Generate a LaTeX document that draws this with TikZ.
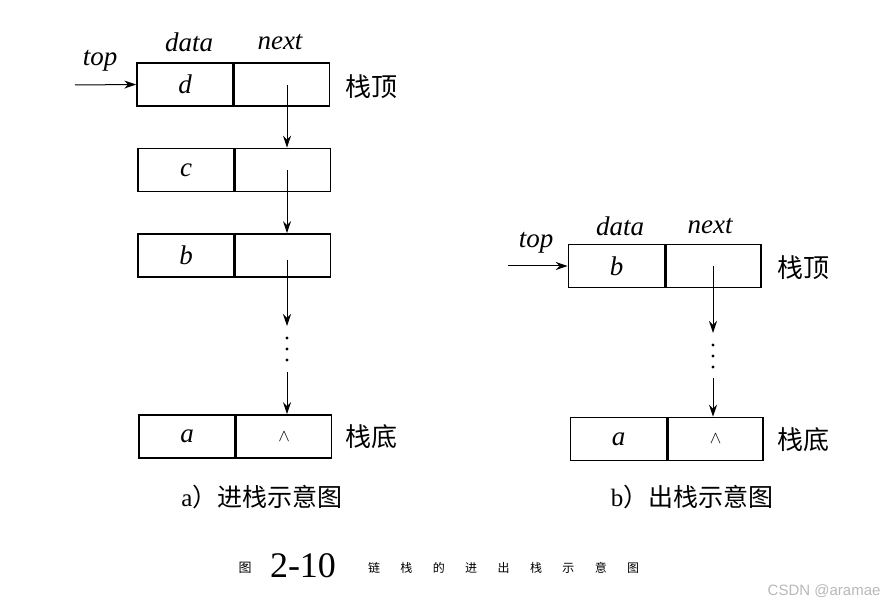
\documentclass[tikz,border=0pt]{standalone}
\usepackage{fontspec}
\setmainfont{Liberation Serif}
\setsansfont{Liberation Sans}
\newfontfamily\cjk{Noto Sans CJK SC}
\usetikzlibrary{arrows.meta}
\begin{document}
\begin{tikzpicture}[x=1pt,y=-1pt,
  cell/.style={draw,line width=1.6pt,minimum height=43pt,inner sep=0pt,font=\fontsize{27}{29}\selectfont\itshape},
  dcell/.style={cell,minimum width=96pt},
  ncell/.style={cell,minimum width=95pt},
  lbl/.style={font=\fontsize{27}{29}\selectfont\itshape,inner sep=0pt},
  cn/.style={font=\fontsize{26}{28}\selectfont\cjk,inner sep=0pt},
  sub/.style={font=\fontsize{25}{27}\selectfont,inner sep=0pt},
  ptr/.style={line width=1pt,-{Stealth[length=12pt,width=8pt]}},
  dot/.style={circle,fill,inner sep=0pt,minimum size=3.2pt},
  wedgecell/.style={font=\upshape\fontsize{16}{16}\selectfont}
]
\useasboundingbox (0,0) rectangle (893,609);
% ---------- left: push ----------
\node[dcell] (Ld) at (185,84.5) {d};
\node[ncell,anchor=west] (Ldn) at (Ld.east) {};
\node[dcell] (Lc) at (186,170) {c};
\node[ncell,anchor=west] (Lcn) at (Lc.east) {};
\node[dcell] (Lb) at (186,255.5) {b};
\node[ncell,anchor=west] (Lbn) at (Lb.east) {};
\node[dcell] (La) at (187,436.5) {a};
\node[ncell,wedgecell,anchor=west] (Lan) at (La.east) {$\wedge$};
\node[lbl] (Ldata) at (189,42) {data};
\node[lbl] (Lnext) at (280,42) {next};
\node[lbl] (Ltop) at (100,61) {top};
\coordinate (Lstart) at (75,85);
\draw[ptr] (Lstart) -- (Ld.west);
\node[cn,anchor=west] (Ltt) at (345,87) {栈顶};
\node[cn,anchor=west] (Lbt) at (345,437) {栈底};
\coordinate (Lp1) at (287,85);
\coordinate (Lp2) at (287,170);
\coordinate (Lp3) at (287,260);
\coordinate (Le3) at (287,326);
\coordinate (Ls4) at (287,372);
\draw[ptr] (Lp1) -- (Lp1 |- Lc.north);
\draw[ptr] (Lp2) -- (Lp2 |- Lb.north);
\draw[ptr] (Lp3) -- (Le3);
\node[dot] (Ldot1) at (287,338) {};
\node[dot] (Ldot2) at (287,349) {};
\node[dot] (Ldot3) at (287,360) {};
\draw[ptr] (Ls4) -- (Ls4 |- La.north);
\node[sub] (Lcap) at (262,497) {a{\cjk ）进栈示意图}};
% ---------- right: pop ----------
\node[dcell] (Rb) at (616.5,266) {b};
\node[ncell,anchor=west] (Rbn) at (Rb.east) {};
\node[dcell] (Ra) at (618.5,439) {a};
\node[ncell,wedgecell,anchor=west] (Ran) at (Ra.east) {$\wedge$};
\node[lbl] (Rdata) at (620,226) {data};
\node[lbl] (Rnext) at (710,226) {next};
\node[lbl] (Rtop) at (536,243) {top};
\coordinate (Rstart) at (508,266);
\draw[ptr] (Rstart) -- (Rb.west);
\node[cn,anchor=west] (Rtt) at (777,268) {栈顶};
\node[cn,anchor=west] (Rbt) at (777,440) {栈底};
\coordinate (Rp1) at (713,266);
\coordinate (Re1) at (713,333);
\coordinate (Rs2) at (713,378);
\draw[ptr] (Rp1) -- (Re1);
\node[dot] (Rdot1) at (713,345) {};
\node[dot] (Rdot2) at (713,356) {};
\node[dot] (Rdot3) at (713,367) {};
\draw[ptr] (Rs2) -- (Rs2 |- Ra.north);
\node[sub] (Rcap) at (692,497) {b{\cjk ）出栈示意图}};
% ---------- caption ----------
\node[font=\fontsize{13}{13}\selectfont\cjk] (C0) at (245,568) {图};
\node[font=\fontsize{36}{36}\selectfont] (C1) at (303,566) {2-10};
\foreach \ch [count=\i from 0] in {链,栈,的,进,出,栈,示,意,图}
  \node[font=\fontsize{12}{12}\selectfont\cjk] (K\i) at (374+\i*32.4,568) {\ch};
\node[font=\fontsize{15}{15}\selectfont\sffamily,text=black!28,anchor=east] (W) at (884,591) {CSDN @aramae};
\end{tikzpicture}
\end{document}
